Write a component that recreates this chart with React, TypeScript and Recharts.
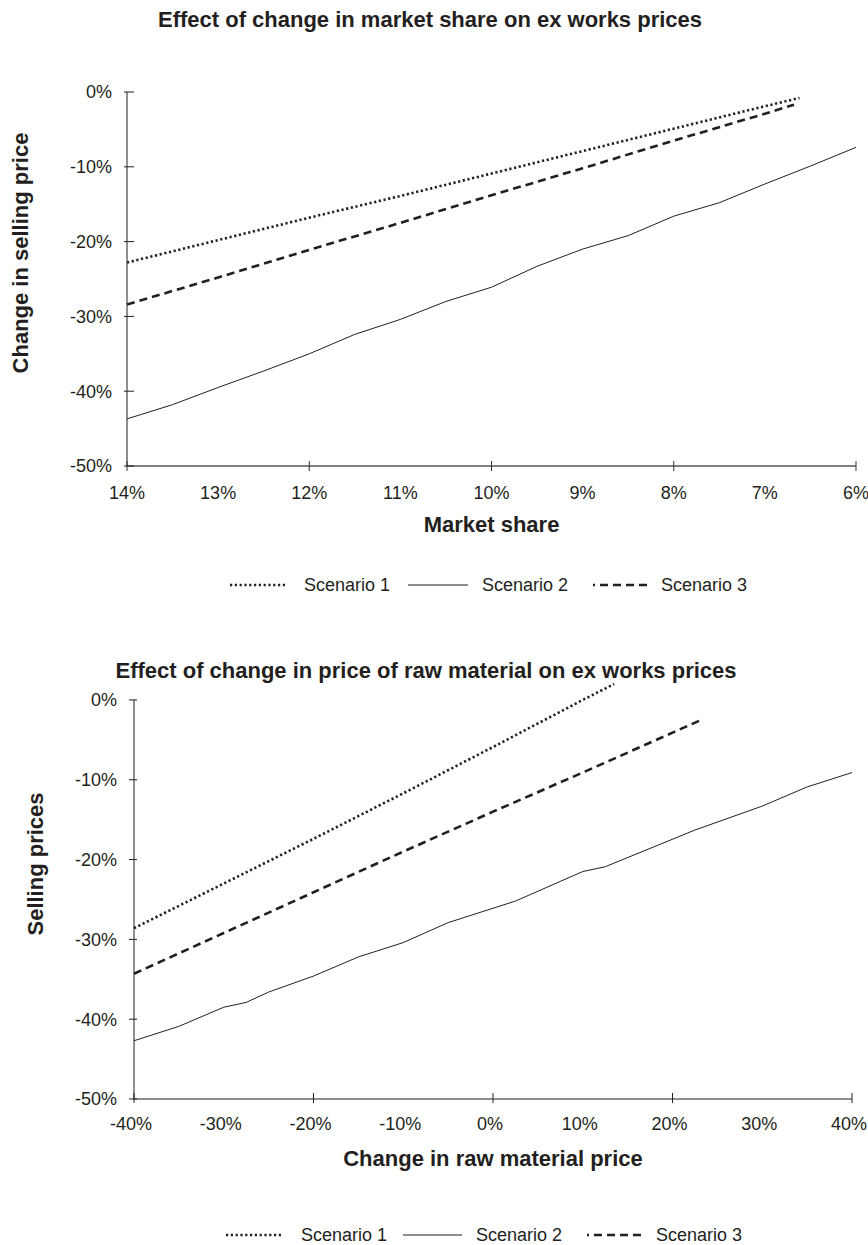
import React from 'react';
import { LineChart, Line, XAxis, YAxis, ReferenceLine } from 'recharts';

// ---------- shared ----------
const SERIES_NAMES = ['Scenario 1', 'Scenario 2', 'Scenario 3'];
const SELLING_TICKS = [0, -10, -20, -30, -40, -50];

// ---------- chart 1: market share ----------
const CHART1_TITLE = 'Effect of change in market share on ex works prices';
const CHART1_X_TITLE = 'Market share';
const CHART1_Y_TITLE = 'Change in selling price';
const SHARE_TICKS = [14, 13, 12, 11, 10, 9, 8, 7, 6];

const share1X = [14, 13, 12, 11, 10, 9, 8, 7, 6.62];
const share1Y = [-22.8, -19.8, -16.8, -13.9, -10.9, -7.9, -4.9, -1.9, -0.8];

const share2X = [14, 13.5, 13, 12.5, 12, 11.5, 11, 10.5, 10, 9.5, 9, 8.5, 8, 7.5, 7, 6.5, 6];
const share2Y = [-43.7, -41.8, -39.5, -37.3, -35.0, -32.4, -30.4, -28.0, -26.1, -23.3, -21.0, -19.2, -16.6, -14.8, -12.3, -9.9, -7.4];

const share3X = [14, 13, 12, 11, 10, 9, 8, 7, 6.68];
const share3Y = [-28.4, -24.8, -21.1, -17.5, -13.8, -10.2, -6.5, -2.9, -1.7];

// ---------- chart 2: raw material ----------
const CHART2_TITLE = 'Effect of change in price of raw material on ex works prices';
const CHART2_X_TITLE = 'Change in raw material price';
const CHART2_Y_TITLE = 'Selling prices';
const RAW_TICKS = [-40, -30, -20, -10, 0, 10, 20, 30, 40];

const raw1X = [-40, -30, -20, -10, 0, 10, 13.5];
const raw1Y = [-28.6, -23.0, -17.4, -11.7, -5.9, 0.0, 2.0];

const raw2X = [-40, -35, -30, -27.5, -25, -20, -15, -10, -5, 0, 2.5, 10, 12.5, 22.5, 30, 35, 40];
const raw2Y = [-42.7, -40.9, -38.5, -37.9, -36.6, -34.6, -32.2, -30.4, -27.9, -26.1, -25.2, -21.5, -20.9, -16.3, -13.3, -10.9, -9.1];

const raw3X = [-40, -30, -20, -10, 0, 10, 20, 23];
const raw3Y = [-34.3, -29.2, -24.1, -19.0, -14.0, -9.1, -4.1, -2.6];

const zip = (xs: number[], ys: number[]) => xs.map((x, i) => ({ x, y: ys[i] }));

const FONT = '"Liberation Sans", Arial, Helvetica, sans-serif';
const TXT = '#231f20';
const LINE = '#231f20';

const SERIES_STYLE = [
  { strokeWidth: 2.6, dash: '2.2 2.6' },
  { strokeWidth: 1, dash: undefined as string | undefined },
  { strokeWidth: 2.6, dash: '8 5' },
];

const makeYTick = (out: number, inn: number, gap: number) => (props: any) => {
  const { x, y, payload } = props;
  return (
    <g>
      <line x1={x - out} x2={x + inn} y1={y} y2={y} stroke={LINE} strokeWidth={1} />
      <text x={x - gap} y={y} dy="0.36em" textAnchor="end" fontSize={18} fill={TXT} fontFamily={FONT}>
        {`${payload.value}%`}
      </text>
    </g>
  );
};

const makeXTick = (up: number, down: number, gap: number, markEvery: number, color: string, shift: number) => (props: any) => {
  const { x, y, payload } = props;
  const v = payload.value as number;
  const mark = Math.abs(Math.round(v) % markEvery) === 0;
  return (
    <g>
      {mark ? <line x1={x} x2={x} y1={y - up} y2={y + down} stroke={color} strokeWidth={1} /> : null}
      <text x={x + shift} y={y + gap} dy="0.36em" textAnchor="middle" fontSize={18} fill={TXT} fontFamily={FONT}>
        {`${v}%`}
      </text>
    </g>
  );
};

const xTitle = (text: string, dy: number) => (props: any) => {
  const vb = props.viewBox;
  return (
    <text x={vb.x + vb.width / 2} y={vb.y + dy} textAnchor="middle" fontSize={22} fontWeight="bold" fill={TXT} fontFamily={FONT}>
      {text}
    </text>
  );
};

const yTitle = (text: string, bx: number, cy: number) => () => (
  <text x={bx} y={cy} transform={`rotate(-90 ${bx} ${cy})`} textAnchor="middle" fontSize={22} fontWeight="bold" fill={TXT} fontFamily={FONT}>
    {text}
  </text>
);

const LEGEND_OFFSET = [0, 0, 6];

const Legend = ({ top, starts }: { top: number; starts: number[][] }) => (
  <svg width={868} height={30} style={{ position: 'absolute', left: 0, top: top - 15 }}>
    {SERIES_NAMES.map((name, i) => (
      <g key={name}>
        <line
          x1={starts[i][0]}
          x2={starts[i][1]}
          y1={15}
          y2={15}
          stroke={LINE}
          strokeWidth={SERIES_STYLE[i].strokeWidth}
          strokeDasharray={SERIES_STYLE[i].dash}
          strokeDashoffset={LEGEND_OFFSET[i]}
        />
        <text x={starts[i][2]} y={15} dy="0.36em" fontSize={18} fill={TXT} fontFamily={FONT}>
          {name}
        </text>
      </g>
    ))}
  </svg>
);

export default function App() {
  const c1 = [zip(share1X, share1Y), zip(share2X, share2Y), zip(share3X, share3Y)];
  const c2 = [zip(raw1X, raw1Y), zip(raw2X, raw2Y), zip(raw3X, raw3Y)];

  return (
    <div style={{ position: 'absolute', left: 0, top: 0, width: 868, height: 1245, background: '#fff', overflow: 'hidden', fontFamily: FONT }}>
      {/* Chart 1 */}
      <div style={{ position: 'absolute', left: 0, top: 0 }}>
        <LineChart width={868} height={620} margin={{ top: 92, right: 12, left: 0, bottom: 0 }}>
          <XAxis
            dataKey="x"
            type="number"
            domain={[6, 14]}
            reversed
            ticks={SHARE_TICKS}
            interval={0}
            height={154}
            tickSize={0}
            tickMargin={0}
            tickLine={false}
            axisLine={{ stroke: '#7f7f7f', strokeWidth: 2 }}
            tick={makeXTick(5, 5, 27, 2, '#333', 0)}
            label={xTitle(CHART1_X_TITLE, 66)}
          />
          <YAxis
            type="number"
            domain={[-50, 0]}
            ticks={SELLING_TICKS}
            interval={0}
            width={127}
            tickSize={0}
            tickMargin={0}
            tickLine={false}
            axisLine={{ stroke: LINE, strokeWidth: 1 }}
            tick={makeYTick(3, 7, 15)}
            label={yTitle(CHART1_Y_TITLE, 28, 253)}
          />
          {SERIES_NAMES.map((name, i) => (
            <Line
              key={name}
              name={name}
              data={c1[i]}
              dataKey="y"
              type="linear"
              stroke={LINE}
              strokeWidth={SERIES_STYLE[i].strokeWidth}
              strokeDasharray={SERIES_STYLE[i].dash}
              dot={false}
              activeDot={false}
              isAnimationActive={false}
            />
          ))}
        </LineChart>
      </div>

      {/* Chart 2 */}
      <div style={{ position: 'absolute', left: 0, top: 620 }}>
        <LineChart width={868} height={625} margin={{ top: 56, right: 16, left: 0, bottom: 0 }}>
          <XAxis
            dataKey="x"
            type="number"
            domain={[-40, 40]}
            ticks={RAW_TICKS}
            interval={0}
            height={146}
            tickSize={0}
            tickMargin={0}
            tickLine={false}
            axisLine={{ stroke: LINE, strokeWidth: 1 }}
            tick={makeXTick(6, 4, 25, 20, LINE, -3)}
            label={xTitle(CHART2_X_TITLE, 67)}
          />
          <YAxis
            type="number"
            domain={[-50, 3]}
            ticks={SELLING_TICKS}
            interval={0}
            width={134}
            tickSize={0}
            tickMargin={0}
            tickLine={false}
            axisLine={false}
            tick={makeYTick(5, 3, 17)}
            label={yTitle(CHART2_Y_TITLE, 43, 244)}
          />
          <ReferenceLine
            segment={[{ x: -40, y: -50 }, { x: -40, y: 0 }]}
            stroke={LINE}
            strokeWidth={1}
          />
          {SERIES_NAMES.map((name, i) => (
            <Line
              key={name}
              name={name}
              data={c2[i]}
              dataKey="y"
              type="linear"
              stroke={LINE}
              strokeWidth={SERIES_STYLE[i].strokeWidth}
              strokeDasharray={SERIES_STYLE[i].dash}
              dot={false}
              activeDot={false}
              isAnimationActive={false}
            />
          ))}
        </LineChart>
      </div>

      {/* Titles */}
      <svg width={868} height={40} style={{ position: 'absolute', left: 0, top: 0 }}>
        <text x={430} y={27} textAnchor="middle" fontSize={22} fontWeight="bold" fill={TXT} fontFamily={FONT}>
          {CHART1_TITLE}
        </text>
      </svg>
      <svg width={868} height={40} style={{ position: 'absolute', left: 0, top: 650 }}>
        <text x={426} y={28} textAnchor="middle" fontSize={22} fontWeight="bold" fill={TXT} fontFamily={FONT}>
          {CHART2_TITLE}
        </text>
      </svg>

      {/* Legends */}
      <Legend top={585} starts={[[230, 286, 304], [408, 468, 482], [593, 647, 661]]} />
      <Legend top={1235} starts={[[226, 281, 301], [403, 462, 476], [587, 642, 656]]} />
    </div>
  );
}
